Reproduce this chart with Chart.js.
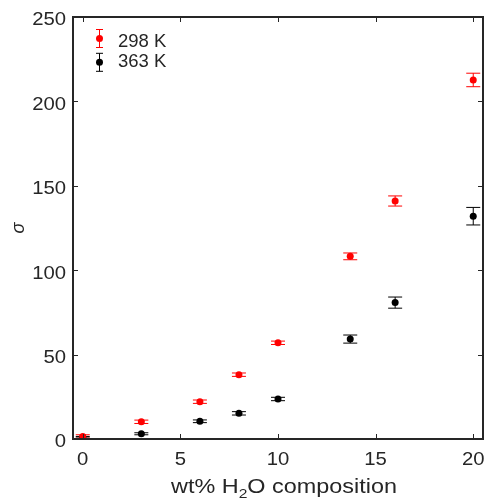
<!DOCTYPE html>
<html>
<head>
<meta charset="utf-8">
<script src="https://cdn.jsdelivr.net/npm/chart.js@4.4.0/dist/chart.umd.min.js"></script>
<style>
html,body{margin:0;padding:0;background:#fff;overflow:hidden;}
#wrap{width:485px;height:500px;position:relative;}
canvas{display:block;}
</style>
</head>
<body>
<div id="wrap"><canvas id="c" width="485" height="500"></canvas></div>
<script>
/* ===== data ===== */
const xVals=[0,3,6,8,10,13.7,16,20];
const sig298=[1.5,10.2,22.1,38.1,57,108.2,141,212.7];
const err298=[1,1,1,1,1,2,3,4];
const sig363=[1,3.1,10.5,15.2,23.7,59.2,80.8,132];
const err363=[0.5,0.6,0.8,1,1,2.4,3.3,5.2];
const xTicks=[0,5,10,15,20];
const yTicks=[0,50,100,150,200,250];
const seriesNames=['298 K','363 K'];
const seriesColors=['#ff0000','#000000'];

const AX='#262626',FONT='"Liberation Sans", Arial, sans-serif';

/* stretched text helper */
function txt(c,s,x,y,font,align,sx){
  c.save();c.font=font;c.textBaseline='alphabetic';
  const w=c.measureText(s).width*sx;
  const x0=align==='right'?x-w:align==='center'?x-w/2:x;
  c.translate(x0,y);c.scale(sx,1);c.textAlign='left';c.fillText(s,0,0);
  c.restore();return w;
}

/* error bars, frame, inner ticks, tick labels, legend, axis titles */
const deco={
  id:'deco',
  beforeDatasetsDraw(ch){
    const c=ch.ctx,xs=ch.scales.x,ys=ch.scales.y;
    [err298,err363].forEach((errs,di)=>{
      const d=ch.data.datasets[di].data;
      c.save();c.strokeStyle=seriesColors[di];c.lineWidth=1;
      d.forEach((p,i)=>{
        const px=xs.getPixelForValue(p.x),
              y1=ys.getPixelForValue(p.y+errs[i]),y2=ys.getPixelForValue(p.y-errs[i]);
        c.beginPath();
        c.moveTo(px,y1);c.lineTo(px,y2);
        c.moveTo(px-7,y1);c.lineTo(px+7,y1);
        c.moveTo(px-7,y2);c.lineTo(px+7,y2);
        c.stroke();
      });
      c.restore();
    });
  },
  afterDraw(ch){
    const c=ch.ctx,a=ch.chartArea,xs=ch.scales.x,ys=ch.scales.y,L=5;
    c.save();
    c.strokeStyle=AX;c.lineWidth=1;
    c.beginPath();
    xTicks.forEach(v=>{const px=Math.round(xs.getPixelForValue(v))+0.5;
      c.moveTo(px,a.bottom);c.lineTo(px,a.bottom-L);
      c.moveTo(px,a.top);c.lineTo(px,a.top+L);});
    yTicks.forEach(v=>{const py=Math.round(ys.getPixelForValue(v))+0.5;
      c.moveTo(a.left,py);c.lineTo(a.left+L,py);
      c.moveTo(a.right,py);c.lineTo(a.right-L,py);});
    c.stroke();
    c.lineWidth=2;
    c.strokeRect(a.left,a.top,a.right-a.left,a.bottom-a.top);

    /* tick labels */
    c.fillStyle=AX;
    const tf='17.5px '+FONT;
    xTicks.forEach(v=>txt(c,String(v),xs.getPixelForValue(v),465,tf,'center',1.16));
    yTicks.forEach(v=>txt(c,String(v),66,ys.getPixelForValue(v)+8.3,tf,'right',1.16));

    /* legend */
    const lx=99.5,ly=[38.5,62.3];
    seriesNames.forEach((n,i)=>{
      c.strokeStyle=seriesColors[i];c.fillStyle=seriesColors[i];c.lineWidth=1;
      c.beginPath();
      c.moveTo(lx,ly[i]-9);c.lineTo(lx,ly[i]+9);
      c.moveTo(lx-3.5,ly[i]-9);c.lineTo(lx+3.5,ly[i]-9);
      c.moveTo(lx-3.5,ly[i]+9);c.lineTo(lx+3.5,ly[i]+9);
      c.stroke();
      c.beginPath();c.arc(lx,ly[i],3.5,0,Math.PI*2);c.fill();
      c.fillStyle=AX;
      txt(c,n,118,[46.7,67][i],'18.5px '+FONT,'left',1);
    });

    /* x title with subscript */
    c.fillStyle=AX;
    const big='19.5px '+FONT,small='13px '+FONT,sx=1.2;
    const parts=[['wt% H',big,0],['2',small,5],['O composition',big,0]];
    let w=0;parts.forEach(([t,f])=>{c.font=f;w+=c.measureText(t).width*sx;});
    let x=(a.left+a.right)/2+6-w/2;
    parts.forEach(([t,f,dy])=>{x+=txt(c,t,x,492.5+dy,f,'left',sx);});

    /* y title */
    c.translate(19,228);c.rotate(-Math.PI/2);
    c.font='italic 18px '+FONT;c.textAlign='center';c.textBaseline='middle';
    c.fillText('σ',0,0);
    c.restore();
  }
};

new Chart(document.getElementById('c'),{
  type:'scatter',
  data:{datasets:[
    {label:seriesNames[0],data:xVals.map((x,i)=>({x,y:sig298[i]})),backgroundColor:seriesColors[0],borderWidth:0,pointRadius:3.5},
    {label:seriesNames[1],data:xVals.map((x,i)=>({x,y:sig363[i]})),backgroundColor:seriesColors[1],borderWidth:0,pointRadius:3.5}
  ]},
  options:{
    responsive:false,animation:false,
    layout:{autoPadding:false,padding:{top:17,right:2,left:0,bottom:0}},
    plugins:{legend:{display:false},tooltip:{enabled:false}},
    scales:{
      x:{type:'linear',min:-0.5,max:20.5,
        afterBuildTicks:s=>{s.ticks=xTicks.map(v=>({value:v}));},
        afterFit:s=>{s.height=61;s.paddingLeft=0;s.paddingRight=0;},
        grid:{display:false,drawTicks:false},border:{display:false},
        ticks:{display:false}},
      y:{type:'linear',min:0,max:250,
        afterBuildTicks:s=>{s.ticks=yTicks.map(v=>({value:v}));},
        afterFit:s=>{s.width=73;s.paddingTop=0;s.paddingBottom=0;},
        grid:{display:false,drawTicks:false},border:{display:false},
        ticks:{display:false}}
    }
  },
  plugins:[deco]
});
</script>
</body>
</html>
